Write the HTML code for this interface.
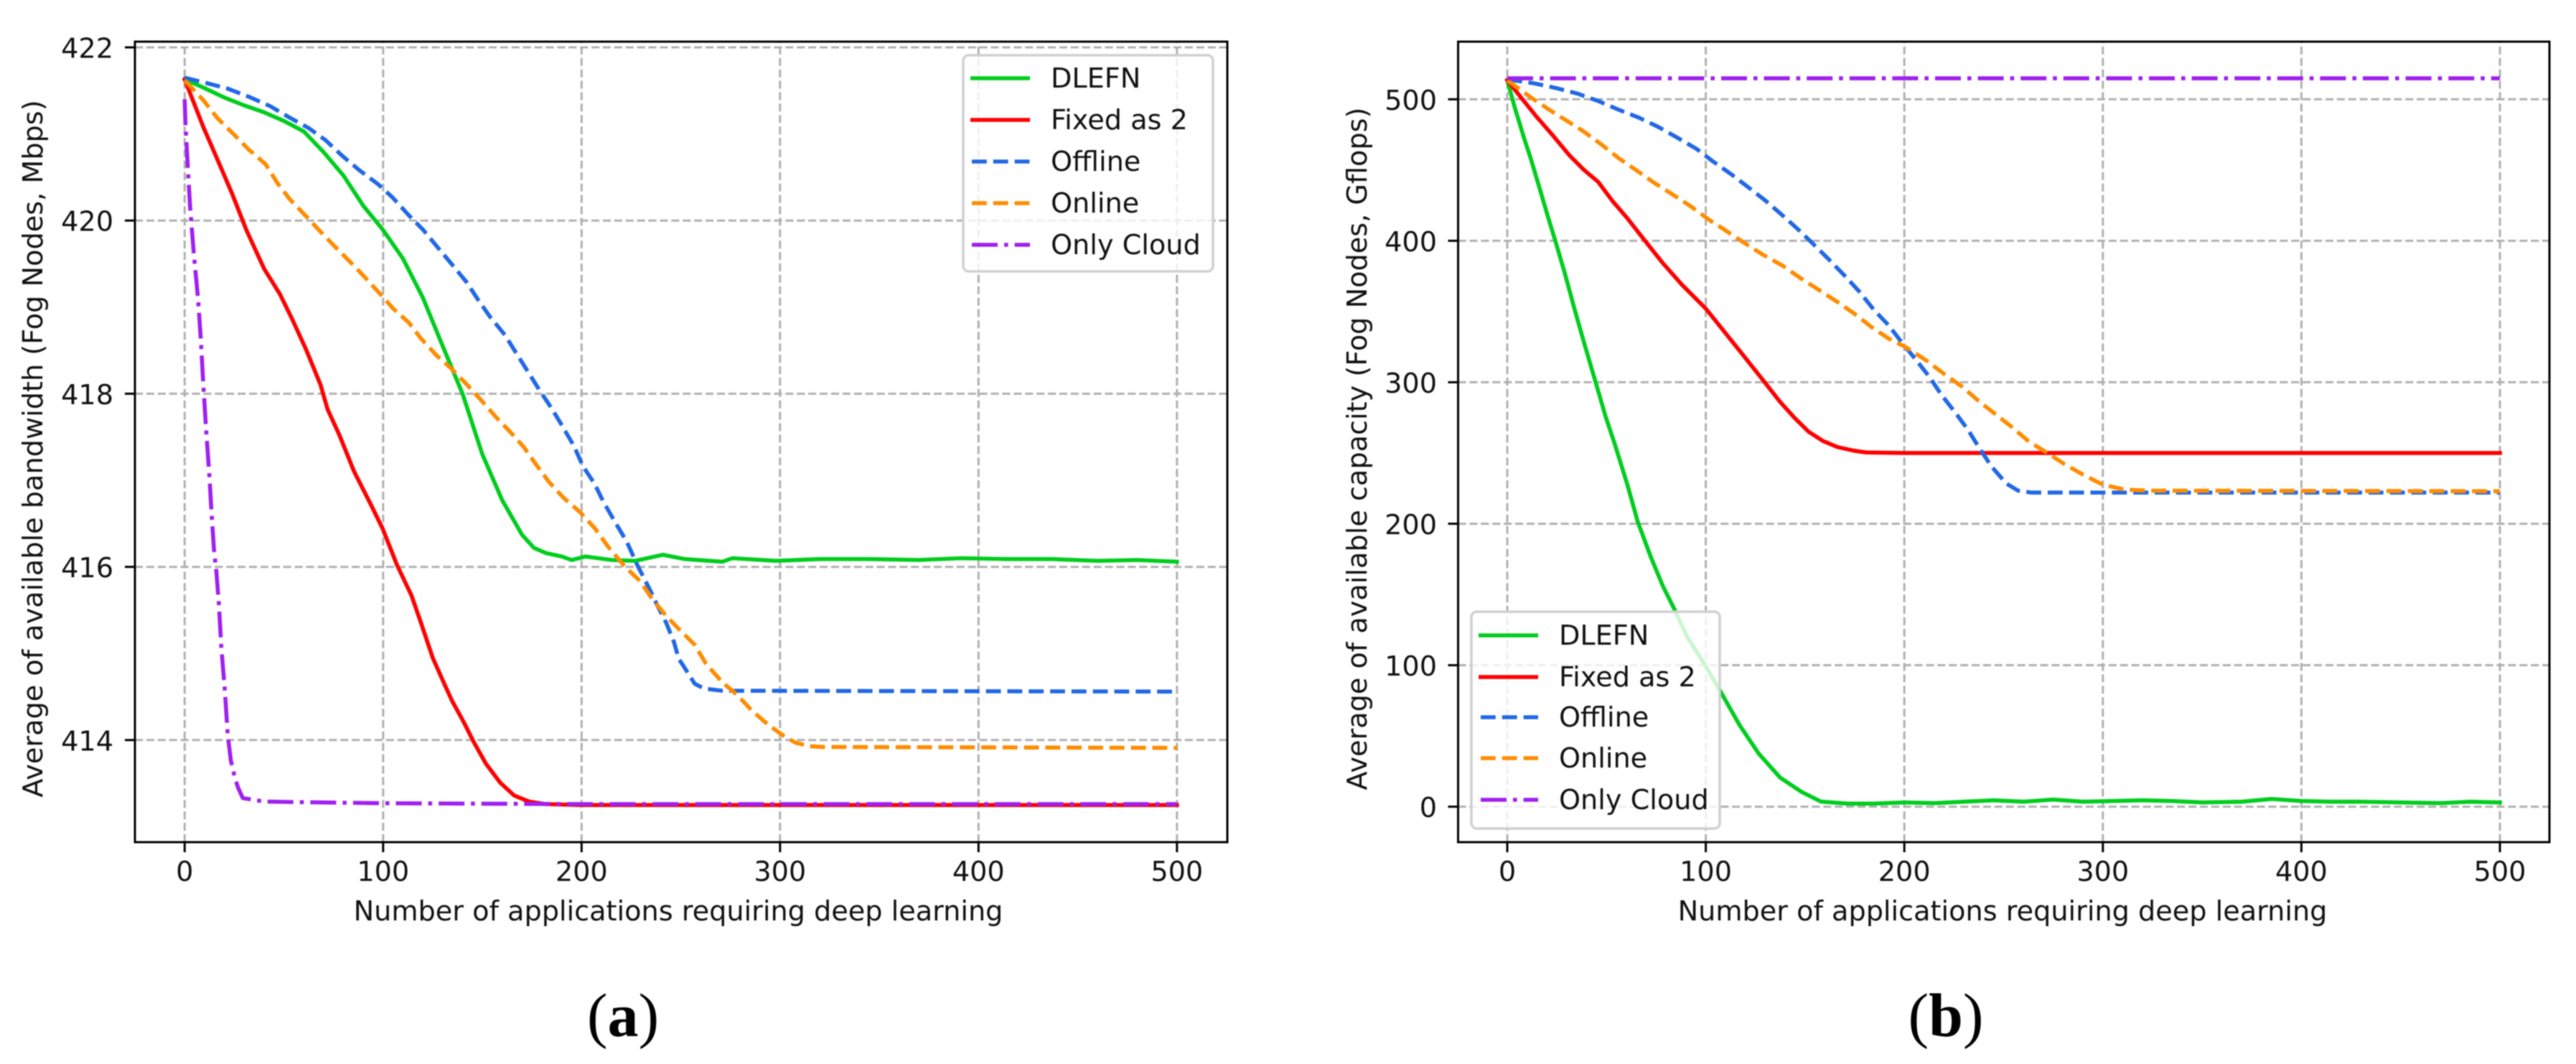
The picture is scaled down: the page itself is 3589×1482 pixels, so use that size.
<!DOCTYPE html>
<html lang="en">
<head>
<meta charset="utf-8">
<title>Average available bandwidth and capacity charts</title>
<style>
  html, body { margin: 0; padding: 0; background: #fff; }
  svg { display: block; filter: blur(0.7px); }
  text { font-family: "DejaVu Sans", sans-serif; font-size: 38.2px; fill: #111; }
  .caption { font-family: "Liberation Serif", serif; font-size: 86px; fill: #000; }
  .legend-box { fill: #fff; fill-opacity: 0.8; stroke: #d0d0d0; stroke-width: 3.5; }
</style>
</head>
<body>
<svg xmlns="http://www.w3.org/2000/svg" width="3589" height="1482" viewBox="0 0 3589 1482">
  <rect width="3589" height="1482" fill="#fff"/>

  <g id="chart-a">
    <g id="a-grid"></g>
    <g id="a-series"></g>
    <g>
      <rect class="legend-box" x="1342" y="77" width="348" height="301" rx="7.5"/>
      <line x1="1352" x2="1435" y1="109" y2="109" stroke="#00cd1e" stroke-width="5.6"/>
      <text x="1464" y="122">DLEFN</text>
      <line x1="1352" x2="1435" y1="167" y2="167" stroke="#ff0000" stroke-width="5.6"/>
      <text x="1464" y="180">Fixed as 2</text>
      <line x1="1354" x2="1435" y1="225" y2="225" stroke="#2268e6" stroke-width="5.6" stroke-dasharray="20.8 9"/>
      <text x="1464" y="238">Offline</text>
      <line x1="1354" x2="1435" y1="283" y2="283" stroke="#ff8c00" stroke-width="5.6" stroke-dasharray="20.8 9"/>
      <text x="1464" y="296">Online</text>
      <line x1="1354" x2="1435" y1="341" y2="341" stroke="#a020f0" stroke-width="5.6" stroke-dasharray="36 9 5.6 9"/>
      <text x="1464" y="354">Only Cloud</text>
    </g>
    <rect x="188" y="58" width="1522" height="1115" fill="none" stroke="#000" stroke-width="3"/>
    <g id="a-ticks"></g>
    <text x="945" y="1282" text-anchor="middle">Number of applications requiring deep learning</text>
    <text transform="translate(59 625) rotate(-90)" text-anchor="middle">Average of available bandwidth (Fog Nodes, Mbps)</text>
    <text class="caption" x="868" y="1443" text-anchor="middle">(<tspan font-weight="bold">a</tspan>)</text>
  </g>

  <g id="chart-b">
    <g id="b-grid"></g>
    <g id="b-series"></g>
    <g>
      <rect class="legend-box" x="2050" y="852" width="346" height="302" rx="7.5"/>
      <line x1="2060" x2="2143" y1="885" y2="885" stroke="#00cd1e" stroke-width="5.6"/>
      <text x="2172" y="898">DLEFN</text>
      <line x1="2060" x2="2143" y1="943" y2="943" stroke="#ff0000" stroke-width="5.6"/>
      <text x="2172" y="956">Fixed as 2</text>
      <line x1="2063" x2="2143" y1="999" y2="999" stroke="#2268e6" stroke-width="5.6" stroke-dasharray="20.8 9"/>
      <text x="2172" y="1012">Offline</text>
      <line x1="2063" x2="2143" y1="1056" y2="1056" stroke="#ff8c00" stroke-width="5.6" stroke-dasharray="20.8 9"/>
      <text x="2172" y="1069">Online</text>
      <line x1="2063" x2="2143" y1="1114" y2="1114" stroke="#a020f0" stroke-width="5.6" stroke-dasharray="36 9 5.6 9"/>
      <text x="2172" y="1127">Only Cloud</text>
    </g>
    <rect x="2031.5" y="58" width="1520.5" height="1115" fill="none" stroke="#000" stroke-width="3"/>
    <g id="b-ticks"></g>
    <text x="2790" y="1282" text-anchor="middle">Number of applications requiring deep learning</text>
    <text transform="translate(1904 625) rotate(-90)" text-anchor="middle">Average of available capacity (Fog Nodes, Gflops)</text>
    <text class="caption" x="2711" y="1443" text-anchor="middle">(<tspan font-weight="bold">b</tspan>)</text>
  </g>
</svg>

<script>
// Shared x ticks
const xTicks = [0, 100, 200, 300, 400, 500];

// Chart (a): available bandwidth
const bandwidthTicks = [422, 420, 418, 416, 414];

const bwDlefnX = [0,10,20,30,40,50,60,70,80,90,100,110,120,130,140,150,160,170,176,182,190,195,202,215,227,241,252,271,276,298,320,345,370,391,415,437,460,480,500];
const bwDlefnY = [421.63,421.53,421.42,421.33,421.25,421.15,421.03,420.79,420.52,420.17,419.89,419.56,419.11,418.55,418.0,417.3,416.77,416.37,416.22,416.16,416.12,416.08,416.12,416.08,416.07,416.14,416.09,416.06,416.10,416.07,416.09,416.09,416.08,416.10,416.09,416.09,416.07,416.08,416.06];

const bwFixedX = [0,9.4,16.6,23.9,31.1,38.3,40.1,48,54,61.2,68.5,72,78,85.4,93.8,99.8,107,114.3,119,125,131,134.8,140.8,145.6,151.7,158.9,166,173.4,181.8,200,500];
const bwFixedY = [421.63,421.08,420.70,420.31,419.89,419.53,419.44,419.15,418.87,418.51,418.10,417.82,417.52,417.10,416.72,416.44,416.02,415.67,415.36,414.95,414.64,414.45,414.20,413.98,413.73,413.51,413.36,413.29,413.26,413.25,413.25];

const bwOfflineX = [0,10.6,21.5,32.3,43.2,52.8,62.4,70.9,79.3,87.8,97.4,104.6,113,120.3,127.5,134.8,142,148,154,161.3,167.3,172.8,178.8,184.8,190.2,196.3,200.5,206.5,211.3,216.8,222.8,228.1,233.9,238.5,242.7,246.6,248.9,251.2,257,261.6,270.8,500];
const bwOfflineY = [421.65,421.59,421.525,421.43,421.32,421.19,421.07,420.93,420.75,420.585,420.42,420.27,420.06,419.89,419.69,419.49,419.29,419.08,418.885,418.68,418.46,418.26,418.04,417.835,417.63,417.39,417.17,416.96,416.74,416.52,416.29,416.02,415.76,415.54,415.35,415.13,414.94,414.86,414.65,414.595,414.57,414.56];

const bwOnlineX = [0,9.4,16.6,25,32.3,40.8,46.8,52.8,61.2,68.5,75.7,83.5,90.2,98.6,105.2,113,119,127,134.8,142,149.2,156.5,164,171,177,183.6,190.8,199.3,206.5,213.8,222.4,229.3,236.2,243.1,250,257,262.7,270.8,278.9,285.8,293.9,300.8,307.7,314.6,321.5,500];
const bwOnlineY = [421.62,421.39,421.18,420.99,420.82,420.65,420.43,420.25,420.05,419.87,419.70,419.52,419.36,419.15,418.98,418.82,418.64,418.44,418.28,418.11,417.93,417.74,417.56,417.38,417.185,416.98,416.80,416.63,416.45,416.22,415.99,415.84,415.61,415.42,415.26,415.10,414.88,414.67,414.51,414.34,414.18,414.065,413.97,413.93,413.92,413.91];

const bwCloudX = [0,0.4,1.6,2.8,4.6,6.75,8.2,9.4,10.85,12.4,13.6,14.8,16,17.2,18.4,20.3,21.7,23.3,25.3,26.9,29.3,40,51.6,100,200,500];
const bwCloudY = [421.40,421.11,420.61,420.14,419.62,419.09,418.60,418.10,417.57,417.07,416.6,416.19,415.94,415.58,415.09,414.56,414.06,413.76,413.565,413.45,413.33,413.29,413.285,413.27,413.26,413.26];

// Chart (b): available capacity
const capacityTicks = [500, 400, 300, 200, 100, 0];

const capDlefnX = [0,3.6,8.4,12.1,15.7,20.5,24.7,29,33.8,38.6,44.6,49.5,54.3,60.3,65.7,72.4,78.4,84.4,90.5,98.9,107.4,117,126.7,137.5,148.4,158,171.3,184.6,200,215,230,245,260,275,290,305,320,335,350,370,385,400,415,430,450,470,485,500];
const capDlefnY = [513.5,494.9,472.9,456.8,439.9,417,397.6,377,352,328.3,299.5,275.9,255.6,228.5,201.5,176.1,155.8,138.9,120.3,101.7,81.4,57.7,37.4,20.5,10.3,3.6,2.2,2.2,3,2.5,3.5,4.5,3.5,5,3.5,4,4.5,4,3,3.5,5.5,4,3.5,3.5,3,2.5,3.5,3];

const capFixedX = [0,7.2,14.5,22.9,31.4,38.6,45.8,53,60.3,68.8,78.4,88,100,109.7,119.4,129,137.5,144.6,151.8,159,166.3,174.7,180.8,200,500];
const capFixedY = [513.5,500.8,488.1,474.6,460.2,450.1,441.6,428.1,416.2,401,384.1,368.9,352,335.1,318.1,301.2,286,275,265,258.5,254.2,251.6,250.4,250,250];

const capOfflineX = [0,13.3,24.7,35.6,45.8,56,66.3,76,85.6,95.3,103.7,112.8,121.8,130.3,138.7,147.4,154.5,162.7,170.3,177.5,184.5,192.2,198.2,206,212.7,218.7,225.3,232,238,244,251.3,257.3,264,500];
const capOfflineY = [514,511.3,507.9,503.9,498.8,492.7,487,480.5,472.9,465,456,447,437.4,428.1,417.9,406.9,397.2,385.8,374.8,363.8,351.5,340.1,329.1,315.6,303.7,291.1,279.2,266.5,253,240.3,228.5,223.4,222,222];

const capOnlineX = [0,11.5,20.5,30,38.6,47.7,56,65.7,74.2,83.8,92.9,101.9,110.3,119.4,129,138.7,147.3,156.7,166,174.8,183.3,192.2,200.6,210.9,220.5,229,237.4,245.8,254.3,262.7,271.7,280.8,290.4,300,310.9,323,500];
const capOnlineY = [513.5,501.7,493.2,484.8,477.1,467.8,458.5,449.2,440.8,432.3,423.9,414.6,407,398.5,390,382.4,374,365.5,357,348.5,339.2,330.8,324.9,315.6,305.4,297,286.8,277.5,268.2,258.1,250.4,242,234.4,227.6,224.2,223.4,223];

const capCloudX = [0,100,200,300,400,500];
const capCloudY = [514.8,514.8,514.8,514.8,514.8,514.8];

// Axis functions
function xScaleA(v) { return 257.3 + 2.765 * v; }
function yScaleA(v) { return 66 + 120.6 * (422 - v); }
function xScaleB(v) { return 2100 + 2.766 * v; }
function yScaleB(v) { return 1123.6 - 1.9706 * v; }

const SVG_NS = 'http://www.w3.org/2000/svg';
function make(tag, parent) {
  const node = document.createElementNS(SVG_NS, tag);
  parent.appendChild(node);
  return node;
}

function drawGridAndTicks(prefix, xs, ys, frame, labelX, xTickVals, yTickVals) {
  const grid = document.getElementById(prefix + '-grid');
  const ticks = document.getElementById(prefix + '-ticks');
  xTickVals.forEach(function (t) {
    const g = make('line', grid);
    
    
    g.setAttribute('x1', xs(t)); g.setAttribute('x2', xs(t));
    g.setAttribute('y1', frame.bottom); g.setAttribute('y2', frame.top);
    g.setAttribute('stroke', '#b0b0b0'); g.setAttribute('stroke-width', 3);
    g.setAttribute('stroke-dasharray', '11.1 4.8');
    const m = make('line', ticks);
    
    
    m.setAttribute('x1', xs(t)); m.setAttribute('x2', xs(t));
    m.setAttribute('y1', frame.bottom); m.setAttribute('y2', frame.bottom + 14);
    m.setAttribute('stroke', '#000'); m.setAttribute('stroke-width', 3);
    const l = make('text', ticks);
    
    
    l.setAttribute('x', xs(t)); l.setAttribute('y', 1227);
    l.setAttribute('text-anchor', 'middle');
    l.textContent = t;
  });
  yTickVals.forEach(function (t) {
    const g = make('line', grid);
    
    
    g.setAttribute('x1', frame.left); g.setAttribute('x2', frame.right);
    g.setAttribute('y1', ys(t)); g.setAttribute('y2', ys(t));
    g.setAttribute('stroke', '#b0b0b0'); g.setAttribute('stroke-width', 3);
    g.setAttribute('stroke-dasharray', '11.1 4.8');
    const m = make('line', ticks);
    
    
    m.setAttribute('x1', frame.left - 14); m.setAttribute('x2', frame.left);
    m.setAttribute('y1', ys(t)); m.setAttribute('y2', ys(t));
    m.setAttribute('stroke', '#000'); m.setAttribute('stroke-width', 3);
    const l = make('text', ticks);
    
    
    l.setAttribute('x', labelX); l.setAttribute('y', ys(t) + 14.5);
    l.setAttribute('text-anchor', 'end');
    l.textContent = t;
  });
}

function drawLine(groupId, name, xVals, yVals, xs, ys, color, dash) {
  const line = make('polyline', document.getElementById(groupId));
  
  
  const pts = xVals.map(function (x, i) { return xs(x).toFixed(1) + ',' + ys(yVals[i]).toFixed(1); });
  line.setAttribute('points', pts.join(' '));
  line.setAttribute('fill', 'none');
  line.setAttribute('stroke', color);
  line.setAttribute('stroke-width', 5.6);
  line.setAttribute('stroke-linejoin', 'round');
  if (dash) {
    line.setAttribute('stroke-dasharray', dash);
  } else {
    line.setAttribute('stroke-linecap', 'square');
  }
}

const DASHED = '20.8 9';
const DASHDOT = '36 9 5.6 9';

drawGridAndTicks('a', xScaleA, yScaleA, { left: 188, right: 1710, top: 58, bottom: 1173 }, 158, xTicks, bandwidthTicks);
drawLine('a-series', 'series-dlefn', bwDlefnX, bwDlefnY, xScaleA, yScaleA, '#00cd1e', null);
drawLine('a-series', 'series-fixed-as-2', bwFixedX, bwFixedY, xScaleA, yScaleA, '#ff0000', null);
drawLine('a-series', 'series-offline', bwOfflineX, bwOfflineY, xScaleA, yScaleA, '#2268e6', DASHED);
drawLine('a-series', 'series-online', bwOnlineX, bwOnlineY, xScaleA, yScaleA, '#ff8c00', DASHED);
drawLine('a-series', 'series-only-cloud', bwCloudX, bwCloudY, xScaleA, yScaleA, '#a020f0', DASHDOT);

drawGridAndTicks('b', xScaleB, yScaleB, { left: 2031.5, right: 3552, top: 58, bottom: 1173 }, 2002, xTicks, capacityTicks);
drawLine('b-series', 'series-dlefn', capDlefnX, capDlefnY, xScaleB, yScaleB, '#00cd1e', null);
drawLine('b-series', 'series-fixed-as-2', capFixedX, capFixedY, xScaleB, yScaleB, '#ff0000', null);
drawLine('b-series', 'series-offline', capOfflineX, capOfflineY, xScaleB, yScaleB, '#2268e6', DASHED);
drawLine('b-series', 'series-online', capOnlineX, capOnlineY, xScaleB, yScaleB, '#ff8c00', DASHED);
drawLine('b-series', 'series-only-cloud', capCloudX, capCloudY, xScaleB, yScaleB, '#a020f0', DASHDOT);
</script>
</body>
</html>
